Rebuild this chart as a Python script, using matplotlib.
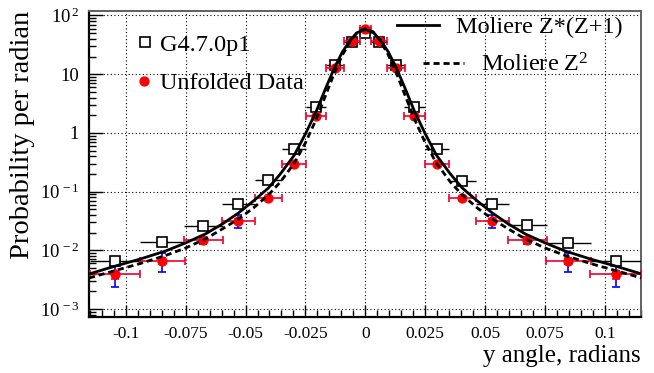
import numpy as np
import matplotlib

matplotlib.use("Agg")
import matplotlib.pyplot as plt
from matplotlib.lines import Line2D

plt.rcParams["font.family"] = ["Liberation Serif", "DejaVu Serif"]
plt.rcParams["mathtext.fontset"] = "stix"

# bin centres and half widths (radians)
x_centres = [-0.1044, -0.0847, -0.0676, -0.0530, -0.0405, -0.0298, -0.0205, -0.0128, -0.0057, 0.0,
             0.0057, 0.0128, 0.0205, 0.0298, 0.0405, 0.0530, 0.0676, 0.0847, 0.1044]
x_halfwidth = [0.0105, 0.0093, 0.0080, 0.0068, 0.0056, 0.0050, 0.0042, 0.00375, 0.00335, 0.0023,
               0.00335, 0.00375, 0.0042, 0.0050, 0.0056, 0.0068, 0.0080, 0.0093, 0.0105]

# G4.7.0p1 simulation
g4_values = [0.0066, 0.0137, 0.026, 0.0615, 0.156, 0.526, 2.73, 14.2, 35.8, 49.8,
             35.8, 14.2, 2.73, 0.526, 0.151, 0.0615, 0.027, 0.0132, 0.00666]

# unfolded data
data_values = [0.0039, 0.00665, 0.015, 0.0319, 0.0769, 0.295, 1.96, 12.9, 37.3, 58.2,
               37.3, 12.9, 1.96, 0.295, 0.0769, 0.0319, 0.015, 0.00665, 0.0039]
data_stat_err = [0.0015, 0.0023, 0.002, 0.0075, 0.004, 0.012, 0.06, 0.35, 0.9, 1.4,
                 0.9, 0.35, 0.06, 0.012, 0.004, 0.0075, 0.002, 0.0023, 0.0015]
data_syst_err = [0.0006, 0.0008, 0.001, 0.002, 0.003, 0.01, 0.05, 0.3, 0.8, 1.2,
                 0.8, 0.3, 0.05, 0.01, 0.003, 0.002, 0.001, 0.0008, 0.0006]

# Moliere curves, read at |angle| (symmetric about 0)
curve_abs_x = [0.0, 0.00334, 0.00626, 0.0096, 0.01293, 0.01669, 0.02044, 0.02503, 0.02962, 0.03546,
               0.04047, 0.04672, 0.05298, 0.05966, 0.06675, 0.0751, 0.0834, 0.0939, 0.1043, 0.1153]
moliere_zz1 = [57.7, 51.3, 38.2, 23.9, 12.8, 5.6, 2.36, 0.958, 0.42, 0.20,
               0.115, 0.0692, 0.0432, 0.0281, 0.019, 0.0133, 0.00972, 0.00711, 0.0054, 0.00395]
moliere_z2 = [60.0, 52.4, 36.8, 21.2, 10.5, 4.25, 1.73, 0.673, 0.307, 0.146,
              0.0875, 0.0526, 0.0341, 0.0231, 0.0156, 0.0109, 0.00815, 0.00596, 0.00453, 0.00337]

x_ticks = [-0.1, -0.075, -0.05, -0.025, 0, 0.025, 0.05, 0.075, 0.1]
x_tick_labels = ["-0.1", "-0.075", "-0.05", "-0.025", "0", "0.025", "0.05", "0.075", "0.1"]
y_ticks = [1e-3, 1e-2, 1e-1, 1, 10, 100]
y_tick_labels = [r"$\mathregular{10^{\,-3}}$", r"$\mathregular{10^{\,-2}}$", r"$\mathregular{10^{\,-1}}$",
                 "1", "10", r"$\mathregular{10^{\,2}}$"]

x_title = "y angle, radians"
y_title = "Probability per radian"
label_g4 = "G4.7.0p1"
label_data = "Unfolded Data"
label_zz1 = "Moliere Z*(Z+1)"
label_z2 = r"Moliere Z$\mathregular{^{2}}$"


def symmetric(xs, ys):
    xs = np.asarray(xs)
    ys = np.asarray(ys)
    return np.concatenate([-xs[:0:-1], xs]), np.concatenate([ys[:0:-1], ys])


W, H = 654, 373
fig = plt.figure(figsize=(W / 100, H / 100), dpi=100)
left, right, top, bottom = 89, 641, 11, 316.7
ax = fig.add_axes([left / W, 1 - bottom / H, (right - left) / W, (bottom - top) / H])

ax.set_yscale("log")
ax.set_xlim(-0.1153, 0.115)
ax.set_ylim(7.4e-4, 119.3)

ax.grid(True, which="major", color="black", linestyle=(0, (1, 2.2)), linewidth=0.8)

ax.errorbar(x_centres, g4_values, xerr=x_halfwidth, fmt="s", ms=6.6, mfc="white", mec="black",
            mew=1.2, ecolor="black", elinewidth=1.0, capsize=0, zorder=3)
ax.errorbar(x_centres, data_values, yerr=data_stat_err, fmt="none", ecolor="#0000ff",
            elinewidth=1.2, capsize=3, capthick=1.2, zorder=4)
ax.errorbar(x_centres, data_values, xerr=x_halfwidth, yerr=data_syst_err, fmt="o", ms=6.4,
            color="red", mec="red", ecolor="#f00030", elinewidth=1.2, capsize=3, capthick=1.2,
            zorder=5)

cx, cy = symmetric(curve_abs_x, moliere_zz1)
ax.plot(cx, cy, color="black", lw=2.0, zorder=6)
cx, cy = symmetric(curve_abs_x, moliere_z2)
ax.plot(cx, cy, color="black", lw=2.0, ls=(0, (2.2, 1.4)), zorder=6)

ax.set_xticks(x_ticks)
ax.set_xticklabels(x_tick_labels)
ax.set_xticks(np.arange(-0.115, 0.1151, 0.005), minor=True)
ax.set_yticks(y_ticks)
ax.set_yticklabels(y_tick_labels)
ax.tick_params(which="both", direction="in", top=False, right=False)
ax.tick_params(axis="x", which="major", length=9, width=1, pad=7, labelsize=12.5)
ax.tick_params(axis="x", which="minor", length=5, width=1)
ax.tick_params(axis="y", which="major", length=10, width=1, pad=7, labelsize=13.5)
ax.tick_params(axis="y", which="minor", length=5, width=1)

for side in ("left", "bottom"):
    ax.spines[side].set_linewidth(1.6)
    ax.spines[side].set_color("black")
for side in ("top", "right"):
    ax.spines[side].set_linewidth(1.4)
    ax.spines[side].set_color("#606060")

ax.set_xlabel(x_title, fontsize=18, loc="right", labelpad=2)
ax.set_ylabel(y_title, fontsize=20.5, loc="top", labelpad=3)

# legend keys, placed in axes fraction
tr = ax.transAxes
ax.add_line(Line2D([0.1014], [0.9002], transform=tr, marker="s", ms=6.6, mfc="white", mec="black",
                   mew=1.2, ls="none", zorder=7))
ax.text(0.1286, 0.8692, label_g4, transform=tr, fontsize=17.5, va="baseline", zorder=7)
ax.add_line(Line2D([0.0996], [0.771], transform=tr, marker="o", ms=6.4, color="red", ls="none", zorder=7))
ax.text(0.1286, 0.7439, label_data, transform=tr, fontsize=17.5, va="baseline", zorder=7)
ax.add_line(Line2D([0.558, 0.634], [0.9526, 0.9526], transform=tr, color="black", lw=2.0, zorder=7))
ax.text(0.664, 0.9264, label_zz1, transform=tr, fontsize=17.5, va="baseline", zorder=7)
ax.add_line(Line2D([0.605, 0.680], [0.829, 0.829], transform=tr, color="black", lw=2.0,
                   ls=(0, (2.2, 1.4)), zorder=7))
ax.text(0.710, 0.8014, label_z2, transform=tr, fontsize=17.5, va="baseline", zorder=7)

fig.savefig("out.png", dpi=100)
